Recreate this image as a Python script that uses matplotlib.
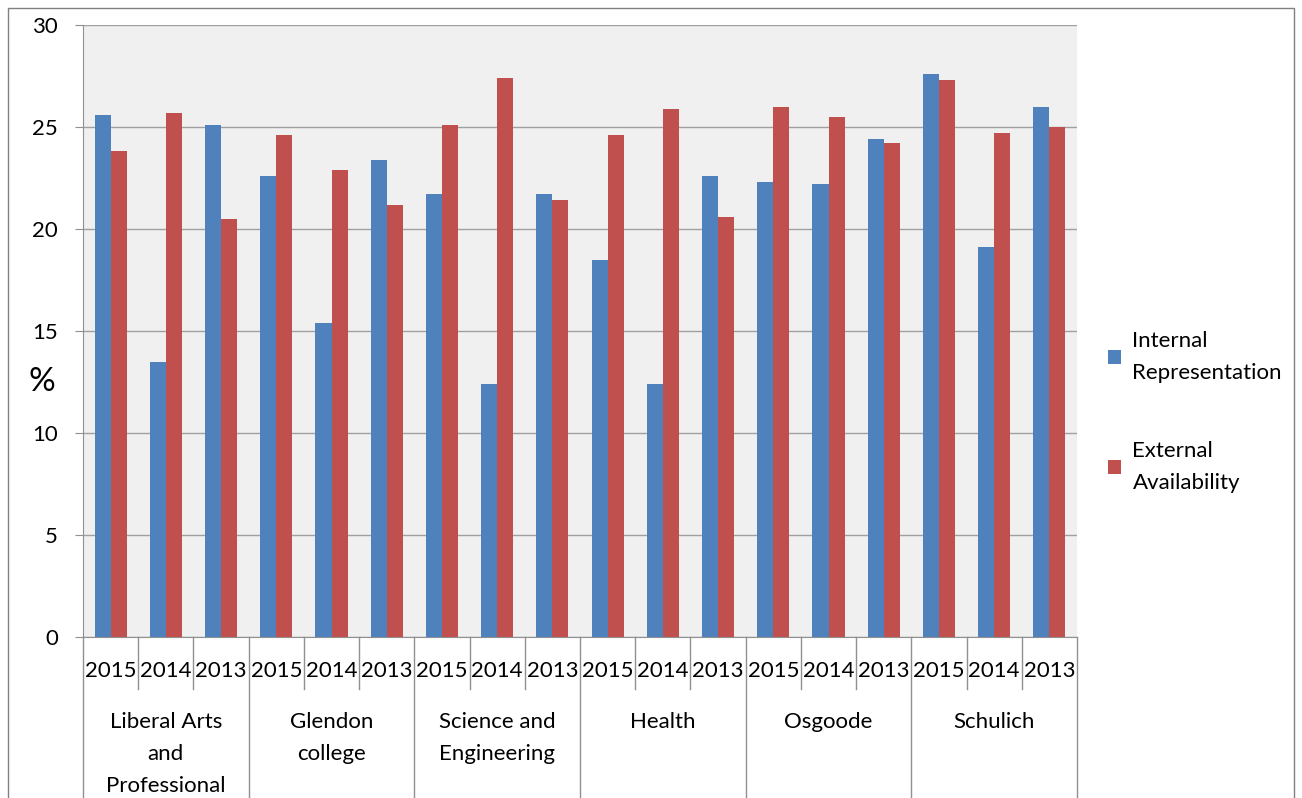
import matplotlib
matplotlib.use("Agg")
import matplotlib.pyplot as plt
import numpy as np

groups = ["Liberal Arts\nand\nProfessional", "Glendon\ncollege", "Science and\nEngineering", "Health", "Osgoode", "Schulich"]
years = ["2015", "2014", "2013"]
internal = [25.6, 13.5, 25.1, 22.6, 15.4, 23.4, 21.7, 12.4, 21.7, 18.5, 12.4, 22.6, 22.3, 22.2, 24.4, 27.6, 19.1, 26.0]
external = [23.8, 25.7, 20.5, 24.6, 22.9, 21.2, 25.1, 27.4, 21.4, 24.6, 25.9, 20.6, 26.0, 25.5, 24.2, 27.3, 24.7, 25.0]

plt.rcParams['font.family'] = ['Lato', 'DejaVu Sans']
W, H = 1302, 798
fig = plt.figure(figsize=(W/100, H/100), dpi=100)
L, R, T, B = 83, 1077, 25, 637
ax = fig.add_axes([L/W, 1-B/H, (R-L)/W, (B-T)/H])
ax.set_facecolor('#F0F0F0')
n = len(internal)
x = np.arange(n)
bw = 0.29
ax.bar(x - bw/2, internal, bw, color='#4F81BD', label='Internal\nRepresentation', zorder=3)
ax.bar(x + bw/2, external, bw, color='#C0504D', label='External\nAvailability', zorder=3)
ax.set_xlim(-0.5, n - 0.5)
ax.set_ylim(0, 30)
ax.set_yticks(range(0, 31, 5))
ax.yaxis.grid(True, color='#A0A0A0', lw=1, zorder=0)
ax.tick_params(axis='y', labelsize=16, length=6, color='#909090', pad=12)
ax.set_xticks([])
for s in ['top', 'right']:
    ax.spines[s].set_visible(False)
for s in ['left', 'bottom']:
    ax.spines[s].set_color('#909090')
fig.text(42/W, 1-382/H, '%', fontsize=24, ha='center', va='center')

for i in range(n):
    ax.text(i, -0.055, years[i % 3], transform=ax.get_xaxis_transform(), ha='center', va='center', fontsize=16, clip_on=False)
for i in range(n + 1):
    top_len = -0.3 if i % 3 == 0 else -0.085
    ax.plot([i - 0.5, i - 0.5], [0, top_len], transform=ax.get_xaxis_transform(), color='#909090', lw=1, clip_on=False)
for g, name in enumerate(groups):
    ax.text(g * 3 + 1, -0.122, name, transform=ax.get_xaxis_transform(), ha='center', va='top', fontsize=16, linespacing=1.75, clip_on=False)

leg = fig.legend(loc='center left', bbox_to_anchor=(1088/W, 1-412/H), frameon=False, fontsize=16,
                 handlelength=0.6, handleheight=0.6, labelspacing=2.6, handletextpad=0.5)
for t in leg.get_texts():
    t.set_linespacing(1.75)
fig.patches.append(plt.Rectangle((8/W, -0.1), (W-16)/W, 1.1 - 8/H, transform=fig.transFigure, fill=False, ec='#808080', lw=1))
fig.savefig('out.png', dpi=100)
